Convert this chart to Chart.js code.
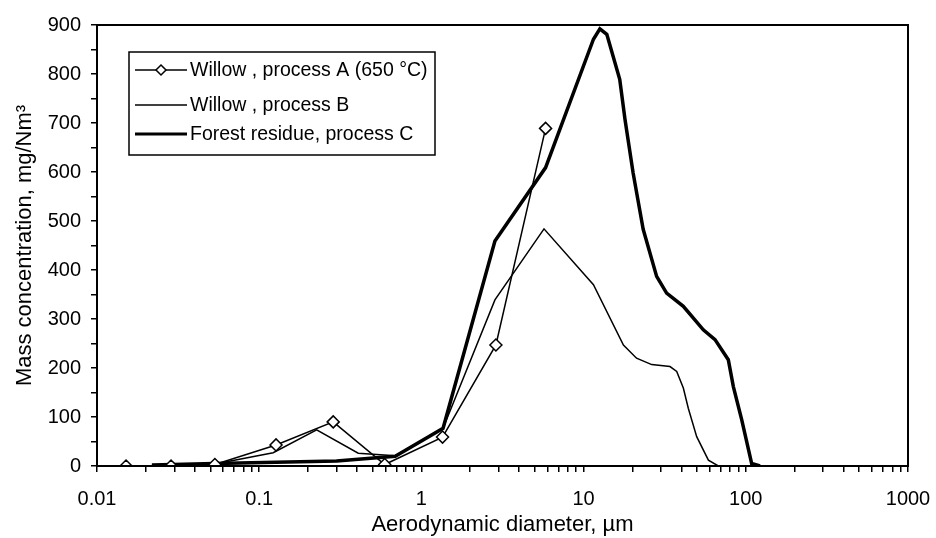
<!DOCTYPE html>
<html>
<head>
<meta charset="utf-8">
<script src="https://cdn.jsdelivr.net/npm/chart.js@4/dist/chart.umd.min.js"></script>
<style>
  html, body { margin: 0; padding: 0; background: #fff; }
  #wrap { width: 936px; height: 538px; }
</style>
</head>
<body>
<div id="wrap"><canvas id="sizeChart"></canvas></div>
<script>
// diameters (um) and concentrations (mg/Nm3)
const dA = [0.0151, 0.0286, 0.0533, 0.127, 0.286, 0.594, 1.35, 2.88, 5.83];
const yA = [0, 0, 3, 43, 90, 3, 59, 247, 689];

const dB = [0.0218, 0.0533, 0.122, 0.226, 0.408, 0.69, 1.36, 2.84, 5.70, 11.5, 17.6, 21.2, 26.3, 34.1, 37.5, 41.2, 44.2, 49.8, 58.8, 67.7, 1000];
const yB = [2, 4, 27, 74, 26, 21, 77, 339, 484, 370, 247, 220, 207, 203, 193, 159, 118, 60, 12, 0, 0];

const dC = [0.0218, 0.0533, 0.3, 0.69, 1.36, 2.84, 5.83, 11.5, 12.6, 13.9, 16.7, 18.0, 20.2, 23.3, 28.2, 32.5, 41.2, 54.7, 64.6, 78.0, 83.8, 94.4, 108.7, 122.4];
const yC = [2, 5, 10, 20, 77, 459, 609, 871, 892, 881, 789, 707, 598, 483, 387, 353, 326, 278, 258, 217, 162, 94, 5, 0];

const seriesNames = ["Willow , process A (650 °C)", "Willow , process B", "Forest residue, process C"];
const xMajor = [0.01, 0.1, 1, 10, 100, 1000];
const xTickLabels = ["0.01", "0.1", "1", "10", "100", "1000"];

const FONT = "'Liberation Sans', Arial, sans-serif";

function pts(xs, ys) {
  return xs.map((x, i) => ({ x: x, y: ys[i] }));
}

// box round the plot + legend drawn inside the plot area
const framePlugin = {
  id: "frame",
  afterDraw(chart) {
    const { ctx, chartArea: a } = chart;
    ctx.save();
    ctx.strokeStyle = "#000";
    ctx.lineWidth = 2;
    ctx.strokeRect(a.left, a.top, a.right - a.left, a.bottom - a.top);

    // legend
    const bx = 129, by = 52, bw = 306, bh = 103;
    ctx.fillStyle = "#fff";
    ctx.fillRect(bx, by, bw, bh);
    ctx.lineWidth = 1.5;
    ctx.strokeRect(bx, by, bw, bh);
    const rows = [70, 105, 134];
    ctx.font = "19.5px " + FONT;
    ctx.textBaseline = "middle";
    chart.data.datasets.forEach((ds, i) => {
      const y = rows[i];
      ctx.strokeStyle = "#000";
      ctx.lineWidth = i === 2 ? 3 : 1.5;
      ctx.beginPath();
      ctx.moveTo(135, y);
      ctx.lineTo(187, y);
      ctx.stroke();
      if (ds.pointRadius > 0) {
        const r = 5;
        ctx.beginPath();
        ctx.moveTo(161, y - r);
        ctx.lineTo(161 + r, y);
        ctx.lineTo(161, y + r);
        ctx.lineTo(161 - r, y);
        ctx.closePath();
        ctx.fillStyle = "#fff";
        ctx.fill();
        ctx.lineWidth = 1.5;
        ctx.stroke();
      }
      ctx.fillStyle = "#000";
      ctx.fillText(ds.label, 190, y + 1);
    });
    ctx.restore();
  }
};

new Chart(document.getElementById("sizeChart"), {
  type: "line",
  data: {
    datasets: [
      {
        label: seriesNames[0],
        data: pts(dA, yA),
        borderColor: "#000",
        borderWidth: 1.5,
        pointStyle: "rectRot",
        pointRadius: 6,
        pointBackgroundColor: "#fff",
        pointBorderColor: "#000",
        pointBorderWidth: 1.5,
        tension: 0,
        order: 0
      },
      {
        label: seriesNames[1],
        data: pts(dB, yB),
        borderColor: "#000",
        borderWidth: 1.5,
        pointRadius: 0,
        tension: 0,
        order: 2
      },
      {
        label: seriesNames[2],
        data: pts(dC, yC),
        borderColor: "#000",
        borderWidth: 3.5,
        borderJoinStyle: "miter",
        pointRadius: 0,
        tension: 0,
        order: 1
      }
    ]
  },
  options: {
    responsive: true,
    maintainAspectRatio: false,
    animation: false,
    layout: { padding: { top: 25, right: 28, left: 0, bottom: 0 } },
    plugins: {
      legend: { display: false },
      tooltip: { enabled: false }
    },
    scales: {
      x: {
        type: "logarithmic",
        min: 0.01,
        max: 1000,
        border: { color: "#000", width: 2 },
        grid: { drawOnChartArea: false, drawTicks: true, tickLength: 6, color: "#000", lineWidth: 1.5 },
        afterBuildTicks(scale) {
          const t = [];
          xMajor.forEach((m, i) => {
            t.push({ value: m });
            if (i < xMajor.length - 1) {
              for (let k = 2; k <= 9; k++) t.push({ value: m * k });
            }
          });
          scale.ticks = t;
        },
        afterFit(scale) {
          scale.height = 72;
          scale.paddingLeft = 0;
          scale.paddingRight = 0;
        },
        ticks: {
          autoSkip: false,
          maxRotation: 0,
          padding: 15,
          color: "#000",
          font: { family: FONT, size: 20 },
          callback(v) {
            const i = xMajor.findIndex(m => Math.abs(m - v) / m < 1e-6);
            return i >= 0 ? xTickLabels[i] : "";
          }
        },
        title: {
          display: true,
          text: "Aerodynamic diameter, µm",
          color: "#000",
          font: { family: FONT, size: 22 },
          padding: { top: 0, bottom: 0 }
        }
      },
      y: {
        min: 0,
        max: 900,
        border: { color: "#000", width: 2 },
        grid: { drawOnChartArea: false, drawTicks: true, tickLength: 6, color: "#000", lineWidth: 1.5 },
        afterFit(scale) {
          scale.width = 97;
          scale.paddingTop = 0;
          scale.paddingBottom = 0;
        },
        ticks: {
          stepSize: 50,
          autoSkip: false,
          padding: 10,
          color: "#000",
          font: { family: FONT, size: 20 },
          callback(v) { return v % 100 === 0 ? String(v) : ""; }
        },
        title: {
          display: true,
          text: "Mass concentration, mg/Nm³",
          color: "#000",
          font: { family: FONT, size: 22 },
          padding: { top: 12, bottom: 0 }
        }
      }
    }
  },
  plugins: [framePlugin]
});
</script>
</body>
</html>
